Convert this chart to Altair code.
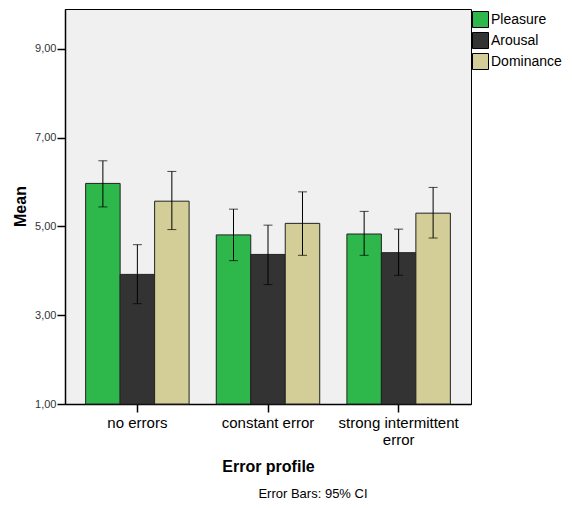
import altair as alt
import pandas as pd

groups = ["no errors", "constant error", "strong intermittent error"]
measures = ["Pleasure", "Arousal", "Dominance"]
colors = ["#2eb84b", "#333333", "#d3ce98"]

pleasure_mean = [5.97, 4.81, 4.83]
pleasure_lo = [5.44, 4.23, 4.35]
pleasure_hi = [6.48, 5.39, 5.34]

arousal_mean = [3.92, 4.37, 4.41]
arousal_lo = [3.26, 3.69, 3.90]
arousal_hi = [4.59, 5.03, 4.94]

dominance_mean = [5.57, 5.07, 5.30]
dominance_lo = [4.93, 4.35, 4.74]
dominance_hi = [6.24, 5.78, 5.88]

y_ticks = [1, 3, 5, 7, 9]
footer = "Error Bars: 95% CI"

rows = []
for m, means, los, his in [
    ("Pleasure", pleasure_mean, pleasure_lo, pleasure_hi),
    ("Arousal", arousal_mean, arousal_lo, arousal_hi),
    ("Dominance", dominance_mean, dominance_lo, dominance_hi),
]:
    for g, mv, lo, hi in zip(groups, means, los, his):
        rows.append({"group": g, "measure": m, "mean": mv, "lo": lo, "hi": hi})
df = pd.DataFrame(rows)

FONT = "Liberation Sans"

yscale = alt.Scale(domain=[1, 9.9], nice=False, zero=False)

base = alt.Chart(df).encode(
    x=alt.X(
        "group:N",
        sort=groups,
        scale=alt.Scale(paddingInner=0.208, paddingOuter=0.158),
        axis=alt.Axis(
            title="Error profile",
            titleFontSize=16,
            titleFontWeight="bold",
            titleFont=FONT,
            titleColor="black",
            titleBaseline="middle",
            titleY=62,
            labelAngle=0,
            labelFontSize=15,
            labelFont=FONT,
            labelColor="black",
            labelLineHeight=17,
            labelLimit=400,
            labelPadding=3,
            labelExpr="datum.value == 'strong intermittent error' ? ['strong intermittent', 'error'] : datum.value",
            tickSize=8,
            tickWidth=1.5,
            tickColor="black",
            domainColor="black",
            domainWidth=1.5,
        ),
    ),
    xOffset=alt.XOffset("measure:N", sort=measures, scale=alt.Scale(paddingInner=0, paddingOuter=0)),
)

bars = base.mark_bar(stroke="#222222", strokeWidth=1).encode(
    y=alt.Y(
        "mean:Q",
        scale=yscale,
        axis=alt.Axis(
            title="Mean",
            titleFontSize=16,
            titleFontWeight="bold",
            titleFont=FONT,
            titleColor="black",
            titleX=-45,
            titleY=197,
            titleBaseline="middle",
            titleAlign="center",
            values=y_ticks,
            labelExpr="replace(format(datum.value, '.2f'), '.', ',')",
            labelFontSize=11,
            labelFont=FONT,
            labelColor="#333333",
            labelPadding=1,
            tickSize=8,
            tickWidth=1.5,
            tickColor="black",
            domainColor="black",
            domainWidth=1.5,
            grid=False,
        ),
    ),
    y2=alt.datum(1),
    color=alt.Color(
        "measure:N",
        sort=measures,
        scale=alt.Scale(domain=measures, range=colors),
        legend=alt.Legend(
            title=None,
            orient="none",
            legendX=407,
            legendY=2,
            symbolType="square",
            symbolSize=256,
            symbolStrokeColor="black",
            symbolStrokeWidth=1,
            symbolOpacity=1,
            labelFontSize=14,
            labelFont=FONT,
            labelColor="black",
            labelOffset=2,
            rowPadding=0,
        ),
    ),
)

rules = base.mark_rule(color="black", strokeWidth=1).encode(
    y=alt.Y("lo:Q", scale=yscale), y2="hi:Q"
)
cap_lo = base.mark_tick(color="black", thickness=1, size=9, orient="horizontal").encode(
    y=alt.Y("lo:Q", scale=yscale)
)
cap_hi = base.mark_tick(color="black", thickness=1, size=9, orient="horizontal").encode(
    y=alt.Y("hi:Q", scale=yscale)
)

foot = alt.Chart(pd.DataFrame({"t": [footer]})).mark_text(
    font=FONT, fontSize=13, color="black", align="center", baseline="alphabetic"
).encode(x=alt.value(248), y=alt.value(489), text="t:N")

chart = (
    alt.layer(bars, rules, cap_lo, cap_hi, foot)
    .properties(
        width=406,
        height=395,
        padding={"left": 57, "top": 1, "right": 93, "bottom": 96},
        autosize="none",
        background="white",
    )
    .configure_view(fill="#f0f0f0", stroke="black", strokeWidth=1)
)

chart.save("out.html", embed_options={"renderer": "svg", "actions": False})
